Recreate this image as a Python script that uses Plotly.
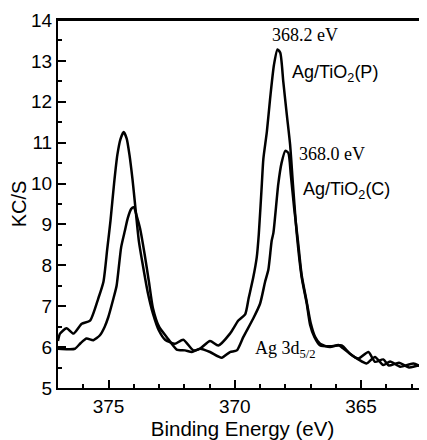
import plotly.graph_objects as go

# Ag/TiO2(P)
energy_p = [377.0, 376.92, 376.66, 376.39, 376.06, 375.73, 375.40, 375.2, 375.05, 374.92,
            374.78, 374.65, 374.52, 374.40, 374.28, 374.17, 374.05, 373.95, 373.80, 373.64,
            373.45, 373.24, 373.0, 372.76, 372.57, 372.37, 372.04, 371.64, 371.38, 370.98,
            370.65, 370.19, 369.86, 369.59, 369.45, 369.27, 369.13, 369.05, 368.93, 368.87,
            368.73, 368.60, 368.45, 368.31, 368.2, 368.08, 367.94, 367.81, 367.70, 367.55,
            367.35, 367.15, 367.02, 366.85, 366.62, 366.23, 365.77, 365.44, 365.11, 364.71,
            364.45, 364.12, 363.9, 363.5, 363.1, 362.7, 362.4]
counts_p = [6.15, 6.33, 6.46, 6.33, 6.57, 6.65, 7.2, 7.6, 8.4, 9.1,
            10.0, 10.7, 11.1, 11.26, 11.1, 10.7, 10.1, 9.5, 8.6, 8.0,
            7.35, 6.82, 6.4, 6.18, 6.12, 6.08, 6.18, 5.92, 5.96, 6.15,
            6.04, 6.33, 6.65, 6.8, 7.2, 7.7, 8.2, 8.76, 9.98, 10.6,
            11.27, 12.09, 12.9, 13.28, 13.2, 12.49, 11.68, 10.95, 10.0, 8.8,
            7.7, 7.06, 6.55, 6.25, 6.04, 6.02, 6.04, 5.84, 5.72, 5.88,
            5.64, 5.70, 5.55, 5.62, 5.5, 5.55, 5.44]

# Ag/TiO2(C)
energy_c = [377.0, 376.6, 376.33, 376.1, 375.87, 375.6, 375.34, 375.15, 375.01, 374.8,
            374.68, 374.50, 374.35, 374.24, 374.1, 374.0, 373.88, 373.75, 373.57, 373.4,
            373.24, 373.0, 372.7, 372.3, 371.97, 371.70, 371.38, 370.98, 370.52, 370.19,
            369.92, 369.66, 369.27, 369.0, 368.8, 368.67, 368.54, 368.47, 368.28, 368.15,
            368.0, 367.88, 367.78, 367.65, 367.5, 367.35, 367.15, 367.0, 366.82, 366.62,
            366.23, 365.9, 365.77, 365.44, 365.11, 364.78, 364.45, 364.12, 363.85, 363.45,
            362.93, 362.4]
counts_c = [5.96, 5.95, 5.96, 6.1, 6.21, 6.17, 6.29, 6.5, 6.73, 7.2,
            7.5, 8.44, 8.85, 9.15, 9.38, 9.42, 9.2, 8.9, 8.27, 7.6,
            6.95, 6.5, 6.25, 5.94, 5.92, 5.88, 5.96, 5.88, 5.74, 5.88,
            5.92, 6.25, 6.7, 7.06, 7.6, 7.9, 8.6, 8.8, 9.98, 10.5,
            10.8, 10.75, 10.2, 9.4, 8.6, 7.75, 7.1, 6.6, 6.25, 6.08,
            6.0, 6.05, 6.0, 5.84, 5.70, 5.60, 5.76, 5.56, 5.65, 5.52,
            5.60, 5.44]

x_ticks = [375, 370, 365]
y_ticks = [5, 6, 7, 8, 9, 10, 11, 12, 13, 14]

fig = go.Figure()
for xs, ys, name in [(energy_p, counts_p, "Ag/TiO2(P)"), (energy_c, counts_c, "Ag/TiO2(C)")]:
    fig.add_trace(go.Scatter(x=xs, y=ys, mode="lines", name=name,
                             line=dict(color="black", width=2.5, shape="spline", smoothing=0.6)))

sans = "Liberation Sans, Arial, sans-serif"
serif = "Liberation Serif, Times New Roman, serif"

annots = [
    ("368.2 eV", 368.60, 13.64, serif),
    ("Ag/TiO<sub>2</sub>(P)", 367.81, 12.68, sans),
    ("368.0 eV", 367.53, 10.72, serif),
    ("Ag/TiO<sub>2</sub>(C)", 367.38, 9.82, sans),
    ("Ag 3d<sub>5/2</sub>", 369.28, 5.95, serif),
]
for text, x, y, fam in annots:
    fig.add_annotation(x=x, y=y, text=text, showarrow=False, xanchor="left", yanchor="middle",
                       font=dict(family=fam, size=18, color="black"))

# top frame line across the plot area
fig.add_shape(type="line", xref="x domain", yref="y domain", x0=0, x1=1, y0=1, y1=1,
              line=dict(color="black", width=2), layer="above")

# page body has an 8px default margin, so margins are reduced by 8px
fig.update_layout(
    width=419, height=434,
    margin=dict(l=50, r=0, t=12, b=54),
    paper_bgcolor="white", plot_bgcolor="white",
    showlegend=False,
    font=dict(family=sans, color="black"),
)
fig.update_xaxes(
    range=[377.0, 362.39], tickvals=x_ticks, ticks="inside", ticklen=8, tickwidth=2,
    tickcolor="black", showline=True, linecolor="black", linewidth=2, mirror=True,
    showgrid=False, zeroline=False, tickfont=dict(size=19), ticklabeloverflow="allow",
    minor=dict(dtick=1, ticks="inside", ticklen=4, tickwidth=2, tickcolor="black", showgrid=False),
    title=dict(text="Binding Energy (eV)", font=dict(size=20.5), standoff=2),
)
fig.update_yaxes(
    range=[5, 14], tickvals=y_ticks, ticks="inside", ticklen=8, tickwidth=2,
    tickcolor="black", showline=True, linecolor="black", linewidth=2,
    showgrid=False, zeroline=False, tickfont=dict(size=19), ticklabeloverflow="allow",
    minor=dict(dtick=0.5, ticks="inside", ticklen=4, tickwidth=2, tickcolor="black", showgrid=False),
    title=dict(text="KC/S", font=dict(size=20), standoff=8),
)
fig.write_html("out.html", config={"displayModeBar": False})
